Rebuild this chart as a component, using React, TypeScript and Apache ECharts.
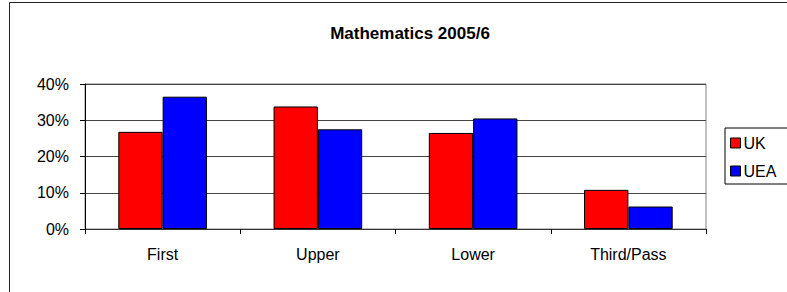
import React, { useEffect, useRef } from "react";
import * as echarts from "echarts";

const categories = ["First", "Upper", "Lower", "Third/Pass"];
const ukValues = [0.268, 0.338, 0.265, 0.108];
const ueaValues = [0.365, 0.275, 0.305, 0.062];
const yTicks = { min: 0, max: 0.4, interval: 0.1 };
const titleText = "Mathematics 2005/6";

export default function App() {
  const ref = useRef<HTMLDivElement>(null);
  useEffect(() => {
    if (!ref.current) return;
    const chart = echarts.init(ref.current, undefined, { renderer: "svg" });
    const font = "Arial, 'Liberation Sans', sans-serif";
    chart.setOption({
      animation: false,
      backgroundColor: "#ffffff",
      textStyle: { fontFamily: font },
      graphic: [
        {
          type: "rect",
          shape: { x: 9.5, y: 2.5, width: 800, height: 310 },
          style: { fill: "none", stroke: "#222", lineWidth: 1 },
          silent: true,
        },
        {
          type: "text",
          x: 410,
          y: 33,
          style: {
            text: titleText,
            fontFamily: font,
            fontSize: 17,
            fontWeight: "bold",
            fill: "#000",
            textAlign: "center",
            textVerticalAlign: "middle",
          },
        },
      ],
      legend: {
        orient: "vertical",
        left: 725,
        top: 128,
        itemWidth: 10,
        itemHeight: 10,
        itemGap: 12,
        padding: [7, 20, 5, 5],
        borderColor: "#000",
        borderWidth: 1,
        icon: "rect",
        textStyle: { fontFamily: font, fontSize: 16, color: "#000", padding: [0, 0, 0, -2] },
        itemStyle: { borderColor: "#000", borderWidth: 1 },
        data: ["UK", "UEA"],
      },
      grid: {
        left: 85,
        right: 81,
        top: 84,
        bottom: 63,
        show: true,
        borderColor: "#808080",
        borderWidth: 1,
        containLabel: false,
      },
      xAxis: {
        type: "category",
        data: categories,
        axisLine: { show: true, lineStyle: { color: "#333", width: 1 } },
        axisTick: { show: true, length: 5, lineStyle: { color: "#000" } },
        axisLabel: { fontFamily: font, fontSize: 16, color: "#000", margin: 17 },
        splitLine: { show: false },
      },
      yAxis: {
        type: "value",
        min: yTicks.min,
        max: yTicks.max,
        interval: yTicks.interval,
        axisLine: { show: true, lineStyle: { color: "#000", width: 1 } },
        axisTick: { show: true, length: 5, lineStyle: { color: "#000" } },
        axisLabel: {
          fontFamily: font,
          fontSize: 16,
          color: "#000",
          margin: 16,
          formatter: (v: number) => `${Math.round(v * 100)}%`,
        },
        splitLine: { show: true, lineStyle: { color: "#444", width: 1 } },
      },
      series: [
        {
          name: "UK",
          type: "bar",
          data: ukValues,
          barGap: "0%",
          barCategoryGap: "42.9%",
          itemStyle: { color: "#ff0000", borderColor: "#000", borderWidth: 1 },
        },
        {
          name: "UEA",
          type: "bar",
          data: ueaValues,
          barGap: "0%",
          barCategoryGap: "42.9%",
          itemStyle: { color: "#0000ff", borderColor: "#000", borderWidth: 1 },
        },
      ],
    });
    return () => chart.dispose();
  }, []);
  return (
    <div
      ref={ref}
      style={{ position: "fixed", left: 0, top: 0, width: 787, height: 292 }}
    />
  );
}
